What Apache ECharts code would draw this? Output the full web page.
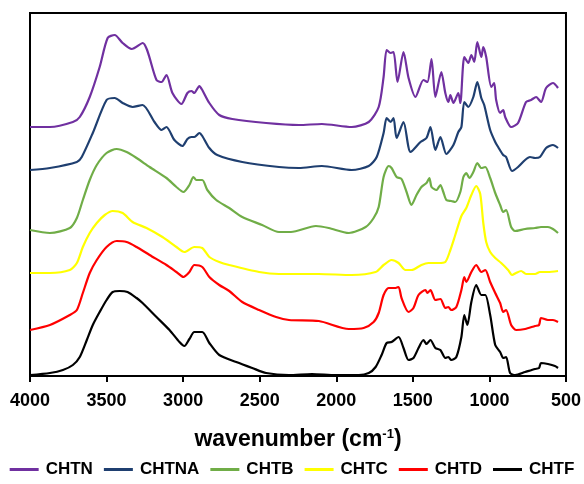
<!DOCTYPE html>
<html>
<head>
<meta charset="utf-8">
<script src="https://cdn.jsdelivr.net/npm/echarts@6/dist/echarts.min.js"></script>
<style>
  html, body { margin: 0; padding: 0; background: #fff; }
  #ftir { width: 584px; height: 484px; }
</style>
</head>
<body>
<div id="ftir"></div>
<script>
// 红外光谱 - 各样品曲线已按偏移堆叠, 纵轴为任意单位
var names = ['CHTN', 'CHTNA', 'CHTB', 'CHTC', 'CHTD', 'CHTF'];
var colors = ['#7030A0', '#1F3F70', '#70AD47', '#FFFF00', '#FF0000', '#000000'];
var xTicks = [500, 1000, 1500, 2000, 2500, 3000, 3500, 4000];

var chtn = [[4000,249],[3870,249],[3720,254],[3675,259],[3610,279],[3545,309],[3493,338],[3447,341],[3395,333],[3336,327],[3265,333],[3174,296],[3141,294],[3109,301],[3070,283],[3011,272],[2972,283],[2946,285],[2927,283],[2894,290],[2875,286],[2829,273],[2764,261],[2679,257],[2458,253],[2244,251],[2094,252],[1899,249],[1788,254],[1723,269],[1691,299],[1671,326],[1645,323],[1626,324],[1600,294],[1561,324],[1528,298],[1483,279],[1431,296],[1405,294],[1378,317],[1353,279],[1314,304],[1288,283],[1268,274],[1255,281],[1235,273],[1203,283],[1190,273],[1164,319],[1138,313],[1118,321],[1099,314],[1079,334],[1053,319],[1040,329],[1021,319],[988,289],[969,293],[956,276],[930,263],[910,266],[897,259],[858,249],[813,253],[761,274],[728,276],[695,279],[663,274],[630,288],[585,293],[552,288]];

var chtna = [[4000,206],[3870,208],[3694,214],[3662,219],[3590,243],[3500,276],[3447,278],[3395,273],[3330,269],[3265,271],[3187,254],[3141,246],[3109,249],[3057,236],[3005,230],[2972,237],[2946,239],[2927,239],[2894,243],[2875,240],[2829,228],[2777,221],[2614,214],[2374,209],[2244,208],[2094,210],[1899,206],[1788,210],[1736,219],[1691,243],[1671,258],[1645,254],[1626,258],[1606,238],[1561,254],[1515,224],[1450,234],[1411,238],[1385,249],[1353,226],[1320,239],[1281,222],[1235,231],[1203,244],[1183,249],[1164,274],[1138,269],[1105,279],[1079,294],[1053,278],[1034,271],[995,246],[962,234],[943,229],[910,221],[891,219],[852,205],[813,209],[767,216],[735,219],[702,218],[670,219],[630,228],[585,231],[552,228]];

var chtb = [[4000,146],[3870,143],[3740,148],[3694,158],[3655,176],[3610,196],[3564,211],[3500,223],[3434,227],[3369,224],[3304,218],[3219,209],[3109,198],[3044,189],[2998,184],[2959,191],[2933,199],[2914,196],[2875,196],[2842,186],[2784,176],[2699,168],[2614,159],[2484,151],[2374,144],[2296,144],[2133,150],[2049,148],[1918,143],[1808,149],[1756,158],[1723,169],[1691,199],[1658,210],[1639,208],[1606,199],[1574,197],[1541,184],[1509,171],[1476,181],[1444,189],[1411,193],[1392,198],[1378,189],[1346,186],[1320,191],[1301,184],[1281,176],[1249,175],[1223,174],[1190,184],[1170,199],[1151,203],[1131,198],[1105,204],[1079,213],[1053,208],[1027,209],[995,198],[962,183],[930,171],[910,164],[891,166],[858,149],[832,145],[767,147],[702,148],[663,149],[618,149],[585,147],[552,143]];

var chtc = [[4000,103],[3870,103],[3740,106],[3694,113],[3655,129],[3610,143],[3564,153],[3512,161],[3460,165],[3395,163],[3330,154],[3239,148],[3135,139],[3044,129],[2992,124],[2927,129],[2875,128],[2829,119],[2764,114],[2699,111],[2504,104],[2374,102],[2114,102],[1899,101],[1743,104],[1691,111],[1639,116],[1593,113],[1548,106],[1509,106],[1444,111],[1398,113],[1333,113],[1288,114],[1255,126],[1223,141],[1183,160],[1151,168],[1118,181],[1086,190],[1060,182],[1040,153],[1021,134],[995,124],[962,118],[923,113],[878,106],[852,101],[826,103],[793,105],[761,102],[702,102],[670,104],[618,104],[552,105]];

var chtd = [[4000,46],[3870,51],[3740,61],[3694,66],[3655,83],[3610,103],[3564,116],[3500,129],[3434,135],[3369,134],[3304,129],[3219,121],[3109,111],[3044,104],[2998,99],[2959,104],[2927,111],[2875,109],[2829,99],[2764,91],[2699,85],[2614,74],[2504,66],[2393,59],[2309,56],[2114,55],[1918,47],[1821,48],[1756,54],[1723,63],[1691,81],[1658,88],[1613,88],[1593,89],[1574,78],[1528,64],[1496,68],[1463,81],[1418,86],[1405,83],[1385,86],[1353,76],[1320,77],[1288,68],[1268,69],[1249,66],[1216,69],[1183,86],[1164,99],[1151,94],[1118,104],[1086,111],[1053,104],[1027,106],[995,94],[962,83],[930,73],[910,64],[891,66],[858,51],[826,46],[767,47],[702,50],[676,51],[663,58],[618,56],[585,56],[552,54]];

var chtf = [[4000,1],[3870,3],[3785,6],[3720,11],[3675,19],[3629,36],[3590,51],[3545,64],[3500,76],[3460,84],[3415,85],[3363,84],[3304,78],[3265,73],[3174,59],[3089,46],[3024,34],[2992,30],[2959,37],[2927,44],[2875,44],[2829,33],[2764,21],[2653,14],[2549,8],[2458,3],[2309,1],[2159,2],[2003,1],[1853,1],[1788,3],[1743,9],[1704,21],[1671,33],[1639,34],[1593,39],[1561,28],[1528,16],[1496,18],[1463,28],[1431,36],[1411,32],[1385,36],[1353,28],[1320,26],[1288,18],[1268,19],[1249,16],[1216,19],[1183,39],[1164,61],[1144,51],[1118,74],[1086,91],[1053,81],[1027,81],[995,61],[962,31],[930,24],[910,18],[891,19],[865,3],[832,1],[767,4],[702,7],[676,8],[663,13],[618,12],[572,10],[552,8]];

var allData = [chtn, chtna, chtb, chtc, chtd, chtf];

var myChart = echarts.init(document.getElementById('ftir'));
var font = 'Liberation Sans, Arial, sans-serif';

var seriesList = [];
for (var i = 0; i < names.length; i++) {
    seriesList.push({
        name: names[i],
        type: 'line',
        data: allData[i],
        showSymbol: false,
        symbol: 'none',
        smooth: 0.25,
        color: colors[i],
        lineStyle: { width: 2.2, color: colors[i] }
    });
}

var option = {
    animation: false,
    backgroundColor: '#fff',
    grid: {
        left: 30,
        right: 16,
        top: 13,
        bottom: 108,
        show: true,
        borderColor: '#000',
        borderWidth: 2
    },
    legend: {
        data: names,
        bottom: 6,
        left: 'center',
        padding: 0,
        icon: 'rect',
        itemWidth: 29,
        itemHeight: 3,
        itemGap: 11,
        textStyle: {
            fontFamily: font,
            fontWeight: 'bold',
            fontSize: 17,
            color: '#000',
            padding: [0, 0, 0, 2]
        }
    },
    xAxis: {
        type: 'value',
        inverse: true,
        min: 500,
        max: 4000,
        interval: 500,
        name: '{a|wavenumber (cm}{b|-1}{a|)}',
        nameLocation: 'middle',
        nameGap: 52,
        nameTextStyle: {
            rich: {
                a: { fontFamily: font, fontWeight: 'bold', fontSize: 23, color: '#000' },
                b: { fontFamily: font, fontWeight: 'bold', fontSize: 13, color: '#000', padding: [0, 0, 10, 0] }
            }
        },
        axisLine: { lineStyle: { color: '#000', width: 2 } },
        axisTick: { show: true, length: 6, lineStyle: { color: '#000', width: 2 } },
        axisLabel: {
            margin: 16,
            fontFamily: font,
            fontWeight: 'bold',
            fontSize: 18,
            color: '#000',
            formatter: function (v) { return xTicks.indexOf(v) >= 0 ? String(v) : ''; }
        },
        splitLine: { show: false }
    },
    yAxis: {
        type: 'value',
        min: 0,
        max: 363,
        axisLine: { show: true, lineStyle: { color: '#000', width: 2 } },
        axisTick: { show: false },
        axisLabel: { show: false },
        splitLine: { show: false }
    },
    series: seriesList
};
myChart.setOption(option);
</script>
</body>
</html>
